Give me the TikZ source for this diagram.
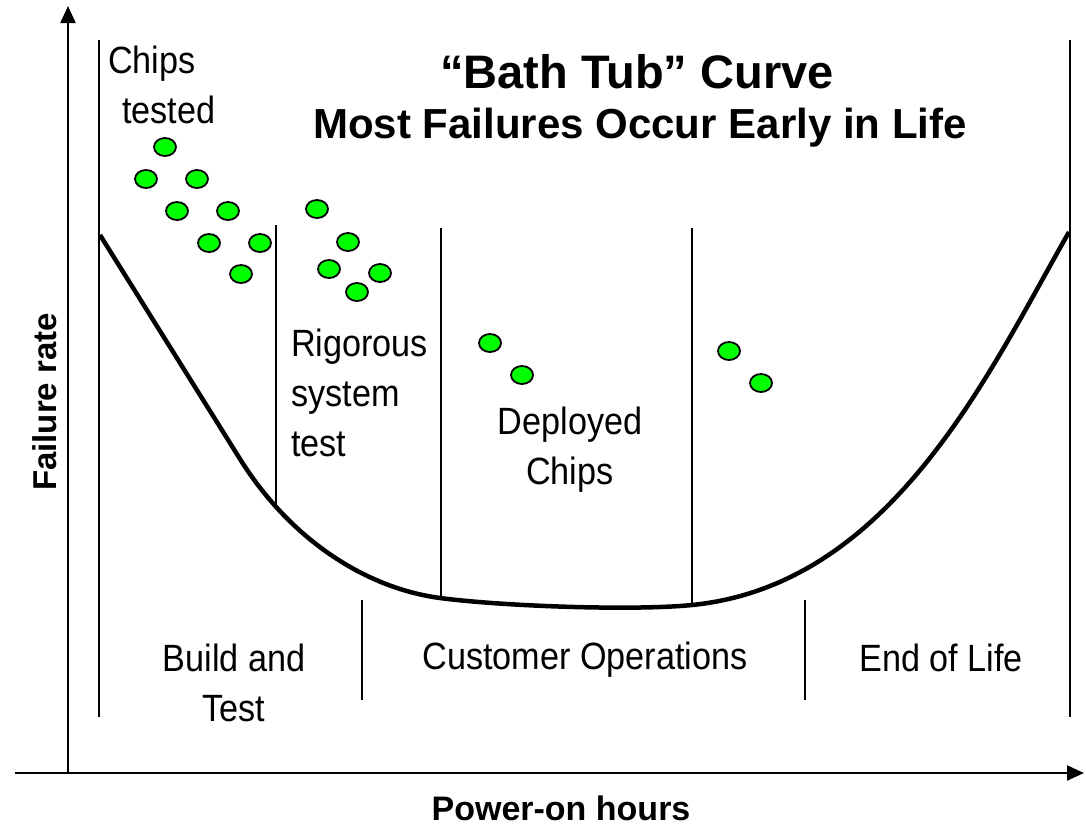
\documentclass[tikz,border=0pt]{standalone}
\usepackage{fontspec}
\setmainfont{Liberation Sans}
\newfontfamily\narrowfont[FakeStretch=0.9]{Liberation Sans}
\usepackage{tikz}
\usetikzlibrary{arrows, arrows.meta, positioning}

\begin{document}
\begin{tikzpicture}[>={Triangle[length=17bp,width=15bp]}, line join=bevel, yscale=-1]
\tikzset{
  lbl/.style={font=\narrowfont\fontsize{38bp}{50bp}\selectfont, inner sep=0pt, align=center},
  ttl/.style={font=\bfseries\fontsize{#1}{#1}\selectfont, inner sep=0pt},
  divider/.style={line width=1.5bp},
  chip/.style={fill={rgb,255:red,0;green,255;blue,0}, draw=black, line width=1.8bp}
}
\useasboundingbox (0bp,0bp) rectangle (1086bp,826bp);
  % Axes
  \draw [->, line width=2.2bp] (68bp,773bp) -- (68bp,6bp);
  \draw [->, line width=2.2bp] (15bp,773bp) -- (1084bp,773bp);
  % Dividers
  \draw [divider] (99bp,40bp) -- (99bp,717bp);
  \draw [divider] (1070bp,40bp) -- (1070bp,717bp);
  \draw [divider] (276bp,225bp) -- (276bp,505bp);
  \draw [divider] (441bp,228bp) -- (441bp,597bp);
  \draw [divider] (692bp,228bp) -- (692bp,605bp);
  \draw [divider] (362bp,600bp) -- (362bp,700bp);
  \draw [divider] (805bp,600bp) -- (805bp,700bp);
  % Curve
  \draw [line width=4.5bp] (100bp,235bp) -- (240bp,459bp)
    .. controls (290bp,539bp) and (365bp,588bp) .. (440bp,598bp)
    .. controls (500bp,606bp) and (632bp,611bp) .. (692bp,605bp)
    .. controls (892bp,585bp) and (989bp,372bp) .. (1069bp,232bp);
  % Chips
  \foreach \x/\y in {165/147, 146/179, 197/179, 177/211, 228/211, 209/243, 260/243, 241/274,
                     317/209, 348/242, 329/269, 380/273, 357/292,
                     490/343, 522/375, 729/351, 761/383}
    \draw [chip] (\x bp,\y bp) ellipse (11bp and 9bp);
  % Labels
  \node [lbl, align=left, anchor=north west] (chips) at (108bp,46bp) {Chips\\\hspace{14bp}tested};
  \node [lbl, align=left, anchor=north west] (rigor) at (291bp,329bp) {Rigorous\\system\\test};
  \node [lbl] (deployed) at (570bp,450bp) {Deployed\\Chips};
  \node [lbl] (build) at (234bp,683bp) {Build and\\Test};
  \node [lbl] (customer) at (585bp,660bp) {Customer Operations};
  \node [lbl] (eol) at (941bp,658bp) {End of Life};
  % Titles
  \node [ttl=47bp] (title) at (637bp,72bp) {``Bath Tub'' Curve};
  \node [ttl=42bp] (subtitle) at (640bp,128bp) {Most Failures Occur Early in Life};
  \node [ttl=33bp, rotate=90] (ylabel) at (45bp,402bp) {Failure rate};
  \node [ttl=34bp] (xlabel) at (561bp,808bp) {Power-on hours};
\end{tikzpicture}
\end{document}
